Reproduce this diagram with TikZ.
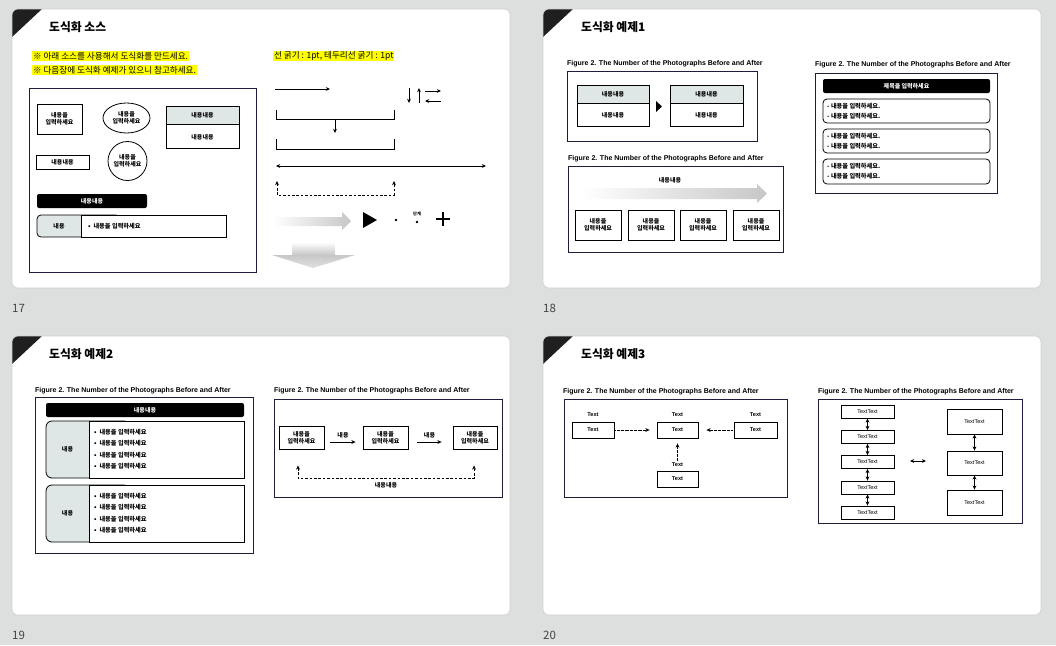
\documentclass[tikz,border=0pt]{standalone}
\usepackage{fontspec}
\setmainfont{Noto Sans CJK KR}
\newfontfamily\capfont{Liberation Sans}
\usetikzlibrary{arrows.meta,shapes.geometric,calc}
\definecolor{bg}{HTML}{DCDFDE}
\definecolor{navy}{HTML}{1E1E3C}
\definecolor{hdr}{HTML}{DEE7E5}
\definecolor{hl}{HTML}{FFFF00}
\definecolor{numgray}{HTML}{444444}
\newcommand\mkslide[2]{%
  \begin{scope}
    \path[clip,rounded corners=6pt] (#1,#2) rectangle ++(498,279);
    \fill[white] (#1,#2) rectangle ++(498,279);
    \fill[black!88] (#1,#2) -- ++(30,0) -- ++(-30,28) -- cycle;
  \end{scope}
  \draw[black!18,line width=0.6pt,rounded corners=6pt] (#1,#2) rectangle ++(498,279);}
\tikzset{
  ttl/.style={anchor=west,inner sep=0,font=\fontsize{11.8}{13}\selectfont\bfseries},
  num/.style={anchor=west,inner sep=0,text=numgray,font=\fontsize{11.5}{12}\selectfont},
  hltext/.style={anchor=west,fill=hl,inner sep=0.8pt,font=\fontsize{8.6}{9.5}\selectfont},
  figcap/.style={anchor=west,inner sep=0,font=\capfont\fontsize{7}{8}\selectfont\bfseries},
  frm/.style={draw=navy,line width=0.9pt},
  bx/.style={draw=black,line width=0.8pt,align=center,inner sep=0,font=\fontsize{6}{6.9}\selectfont\bfseries},
  sm/.style={inner sep=0,align=center,font=\fontsize{6}{6.9}\selectfont\bfseries},
  smw/.style={anchor=west,inner sep=0,font=\fontsize{6.2}{7}\selectfont\bfseries},
  tx/.style={draw=black,line width=0.8pt,inner sep=0,font=\capfont\fontsize{5.6}{6}\selectfont\bfseries},
  txl/.style={inner sep=0,font=\capfont\fontsize{5.6}{6}\selectfont\bfseries},
  tt/.style={draw=black,line width=0.8pt,inner sep=0,font=\capfont\fontsize{5.5}{6}\selectfont},
  arr/.style={-{Stealth[length=4.2pt,width=3.8pt]},line width=0.7pt},
  darr/.style={{Stealth[length=4.2pt,width=3.8pt]}-{Stealth[length=4.2pt,width=3.8pt]},line width=0.7pt},
  dotarr/.style={-{Stealth[length=4.2pt,width=3.8pt]},line width=0.8pt,dash pattern=on 0.7pt off 0.6pt},
  dsh/.style={dash pattern=on 2.6pt off 1.8pt},
  blackbar/.style={fill=black,rounded corners=2pt,inner sep=0,text=white,font=\fontsize{6}{6.5}\selectfont\bfseries},
}
\begin{document}
\begin{tikzpicture}[x=1pt,y=-1pt]
\useasboundingbox (0,0) rectangle (1056,645);
\fill[bg] (0,0) rectangle (1056,645);
\mkslide{12}{9}
\mkslide{543}{9}
\mkslide{12}{336}
\mkslide{543}{336}
\node[num] (n17) at (12,308) {17};
\node[num] (n18) at (543,308) {18};
\node[num] (n19) at (12,635) {19};
\node[num] (n20) at (543,635) {20};
\node[ttl] (t1) at (49,27) {도식화 소스};
\node[ttl] (t2) at (581,27) {도식화 예제1};
\node[ttl] (t3) at (49,354) {도식화 예제2};
\node[ttl] (t4) at (581,354) {도식화 예제3};

% ---------- slide 17 ----------
\node[hltext] (h1) at (32,56) {※ 아래 소스를 사용해서 도식화를 만드세요.};
\node[hltext] (h2) at (32,70) {※ 다음장에 도식화 예제가 있으니 참고하세요.};
\node[hltext] (h3) at (273,56) {선 굵기 : 1pt, 테두리선 굵기 : 1pt};
\draw[frm] (29,88) rectangle (256,272);
\node[bx,minimum width=45,minimum height=30] (s1b1) at (59.5,119) {내용을\\입력하세요};
\node[bx,ellipse,minimum width=47,minimum height=30,inner sep=0pt] (s1e) at (126.5,118) {내용을\\입력하세요};
\node[bx,fill=hdr,minimum width=73,minimum height=18] (s1th) at (202.5,115) {내용내용};
\node[bx,minimum width=73,minimum height=24,anchor=north] (s1tb) at (s1th.south) {내용내용};
\node[bx,minimum width=53,minimum height=14] (s1b2) at (62.5,162) {내용내용};
\node[bx,circle,minimum size=39] (s1c) at (127.5,161) {내용을\\입력하세요};
\node[blackbar,minimum width=110,minimum height=14] (s1bar) at (92,201) {내용내용};
\filldraw[fill=hdr,line width=0.8pt,rounded corners=4pt] (37,215) rectangle (120,237);
\filldraw[fill=white,line width=0.8pt] (81,215) rectangle (226,237);
\node[sm] (s1rl) at (59,226) {내용};
\node[smw] (s1rr) at (88,226) {•\ \ 내용을 입력하세요};
% connectors
\coordinate (a1s) at (275,89); \coordinate (a1e) at (330,89);
\draw[arr] (a1s) -- (a1e);
\coordinate (dn1) at (409,88); \coordinate (dn2) at (409,103);
\draw[arr] (dn1) -- (dn2);
\coordinate (up1) at (419,103); \coordinate (up2) at (419,88);
\draw[arr] (up1) -- (up2);
\coordinate (r1) at (425,91); \coordinate (r2) at (441,91);
\draw[arr] (r1) -- (r2);
\coordinate (l1) at (441,101); \coordinate (l2) at (425,101);
\draw[arr] (l1) -- (l2);
\draw[line width=0.8pt] (276,110) -- (276,119) -- (394,119) -- (394,110);
\coordinate (bk1) at (335,119); \coordinate (bk2) at (335,133);
\draw[arr] (bk1) -- (bk2);
\draw[line width=0.8pt] (276,139) -- (276,149) -- (394,149) -- (394,139);
\coordinate (dd1) at (276,166); \coordinate (dd2) at (486,166);
\draw[darr] (dd1) -- (dd2);
\draw[darr,dsh] (277,181) -- (277,195) -- (394,195) -- (394,181);
\shade[left color=white,right color=black!22] (273,217) -- (342,217) -- (342,212) -- (351,221) -- (342,230) -- (342,226) -- (273,226) -- cycle;
\fill[black] (363,212) -- (377,220) -- (363,228) -- cycle;
\fill (396,220) circle (1.3);
\node[inner sep=0,font=\fontsize{4.2}{4.5}\selectfont\bfseries] (s1step) at (417,213.5) {단계};
\fill (417,222) circle (1.4);
\draw[line width=1.5pt] (436,219) -- (450,219) (443,212) -- (443,226);
\shade[top color=white,bottom color=black!22] (292,242) rectangle (335,255);
\shade[top color=black!22,bottom color=black!12] (272,255) -- (355,255) -- (313,268) -- cycle;

% ---------- slide 18 ----------
\node[figcap] (c21) at (567,64) {Figure 2. The Number of the Photographs Before and After};
\draw[frm] (567,71) rectangle (757,141);
\node[bx,fill=hdr,minimum width=72,minimum height=18] (s2ah) at (613,94) {내용내용};
\node[bx,minimum width=72,minimum height=23,anchor=north] (s2ab) at (s2ah.south) {내용내용};
\node[bx,fill=hdr,minimum width=73,minimum height=18] (s2bh) at (706.5,94) {내용내용};
\node[bx,minimum width=73,minimum height=23,anchor=north] (s2bb) at (s2bh.south) {내용내용};
\fill[black] (656,101) -- (662,106.5) -- (656,112) -- cycle;
\node[figcap] (c22) at (568,159) {Figure 2. The Number of the Photographs Before and After};
\draw[frm] (568,166) rectangle (783,252);
\node[sm] (s2lab) at (670,180) {내용내용};
\shade[left color=white,right color=black!22] (582,188) -- (757,188) -- (757,184) -- (767,193.5) -- (757,203) -- (757,199) -- (582,199) -- cycle;
\node[bx,minimum width=46,minimum height=30] (s2k1) at (598,225) {내용을\\입력하세요};
\node[bx,minimum width=46,minimum height=30] (s2k2) at (651,225) {내용을\\입력하세요};
\node[bx,minimum width=46,minimum height=30] (s2k3) at (703,225) {내용을\\입력하세요};
\node[bx,minimum width=46,minimum height=30] (s2k4) at (756,225) {내용을\\입력하세요};
\node[figcap] (c23) at (815,65) {Figure 2. The Number of the Photographs Before and After};
\draw[frm] (815,73) rectangle (997,193);
\node[blackbar,minimum width=167,minimum height=14] (s2bar) at (906.5,86) {제목을 입력하세요};
\draw[line width=0.8pt,rounded corners=4pt] (823,99) rectangle (990,123);
\draw[line width=0.8pt,rounded corners=4pt] (823,129) rectangle (990,153);
\draw[line width=0.8pt,rounded corners=4pt] (823,159) rectangle (990,184);
\node[smw] (s2p1) at (827,106) {- 내용을 입력하세요.};
\node[smw] (s2p2) at (827,116) {- 내용을 입력하세요.};
\node[smw] (s2p3) at (827,136) {- 내용을 입력하세요.};
\node[smw] (s2p4) at (827,146) {- 내용을 입력하세요.};
\node[smw] (s2p5) at (827,166) {- 내용을 입력하세요.};
\node[smw] (s2p6) at (827,176) {- 내용을 입력하세요.};

% ---------- slide 19 ----------
\node[figcap] (c31) at (35,391) {Figure 2. The Number of the Photographs Before and After};
\draw[frm] (35,397) rectangle (253,553);
\node[blackbar,minimum width=198,minimum height=14] (s3bar) at (145,410) {내용내용};
\filldraw[fill=hdr,line width=0.8pt,rounded corners=6pt] (46,421) rectangle (130,478);
\filldraw[fill=white,line width=0.8pt] (89,421) rectangle (244,478);
\filldraw[fill=hdr,line width=0.8pt,rounded corners=6pt] (46,485) rectangle (130,542);
\filldraw[fill=white,line width=0.8pt] (89,485) rectangle (244,542);
\node[sm] (s3g1) at (67.5,449.5) {내용};
\node[sm] (s3g2) at (67.5,513.5) {내용};
\foreach \yy [count=\i] in {432,443,455,466,496,507,519,530}
  \node[smw] (s3l\i) at (94,\yy) {•\ \ 내용을 입력하세요};
\node[figcap] (c32) at (274,391) {Figure 2. The Number of the Photographs Before and After};
\draw[frm] (274,399) rectangle (502,497);
\node[bx,minimum width=45,minimum height=23] (s3b1) at (301.5,437.5) {내용을\\입력하세요};
\node[bx,minimum width=45,minimum height=23] (s3b2) at (385.5,437.5) {내용을\\입력하세요};
\node[bx,minimum width=44,minimum height=23] (s3b3) at (475,437.5) {내용을\\입력하세요};
\draw[arr] ($(s3b1.east)+(6,4.5)$) -- ($(s3b2.west)+(-7,4.5)$) node[midway,above=4pt,sm] (s3m1) {내용};
\draw[arr] ($(s3b2.east)+(9,4.5)$) -- ($(s3b3.west)+(-11,4.5)$) node[midway,above=4pt,sm] (s3m2) {내용};
\draw[darr,dsh] ($(s3b1.south)+(-3.5,16)$) -- ($(s3b1.south)+(-3.5,29)$) -| ($(s3b3.south)+(-1,16)$);
\node[sm] (s3dl) at (386,485) {내용내용};

% ---------- slide 20 ----------
\node[figcap] (c41) at (563,392) {Figure 2. The Number of the Photographs Before and After};
\draw[frm] (564,399) rectangle (787,497);
\node[tx,minimum width=42,minimum height=16] (s4a) at (593,430) {Text};
\node[tx,minimum width=41,minimum height=16] (s4b) at (677.5,430) {Text};
\node[tx,minimum width=43,minimum height=16] (s4c) at (755.5,430) {Text};
\node[tx,minimum width=41,minimum height=16] (s4d) at (677.5,479) {Text};
\node[txl] (s4la) at (593,415) {Text};
\node[txl] (s4lb) at (677.5,415) {Text};
\node[txl] (s4lc) at (755.5,415) {Text};
\node[txl] (s4ld) at (677.5,465) {Text};
\draw[dotarr] ($(s4a.east)+(1,0)$) -- ($(s4b.west)+(-7,0)$);
\draw[dotarr] ($(s4c.west)+(-1,0)$) -- ($(s4b.east)+(8,0)$);
\draw[dotarr] ($(s4ld.north)+(0,-2)$) -- ($(s4b.south)+(0,5)$);
\node[figcap] (c42) at (818,392) {Figure 2. The Number of the Photographs Before and After};
\draw[frm] (818,399) rectangle (1022,523);
\foreach \yy [count=\i] in {411.5,437,462,487.5,512.5}
  \node[tt,minimum width=53,minimum height=13] (s4L\i) at (867.5,\yy) {TextText};
\foreach \i [evaluate=\i as \j using int(\i+1)] in {1,...,4}
  \draw[darr] (s4L\i.south) -- (s4L\j.north);
\node[tt,minimum width=55,minimum height=25] (s4R1) at (974.5,421.5) {TextText};
\node[tt,minimum width=55,minimum height=24] (s4R2) at (974.5,463) {TextText};
\node[tt,minimum width=55,minimum height=25] (s4R3) at (974.5,502.5) {TextText};
\draw[darr] (s4R1.south) -- (s4R2.north);
\draw[darr] (s4R2.south) -- (s4R3.north);
\coordinate (s4m1) at (910,461); \coordinate (s4m2) at (926,461);
\draw[darr] (s4m1) -- (s4m2);
\end{tikzpicture}
\end{document}
